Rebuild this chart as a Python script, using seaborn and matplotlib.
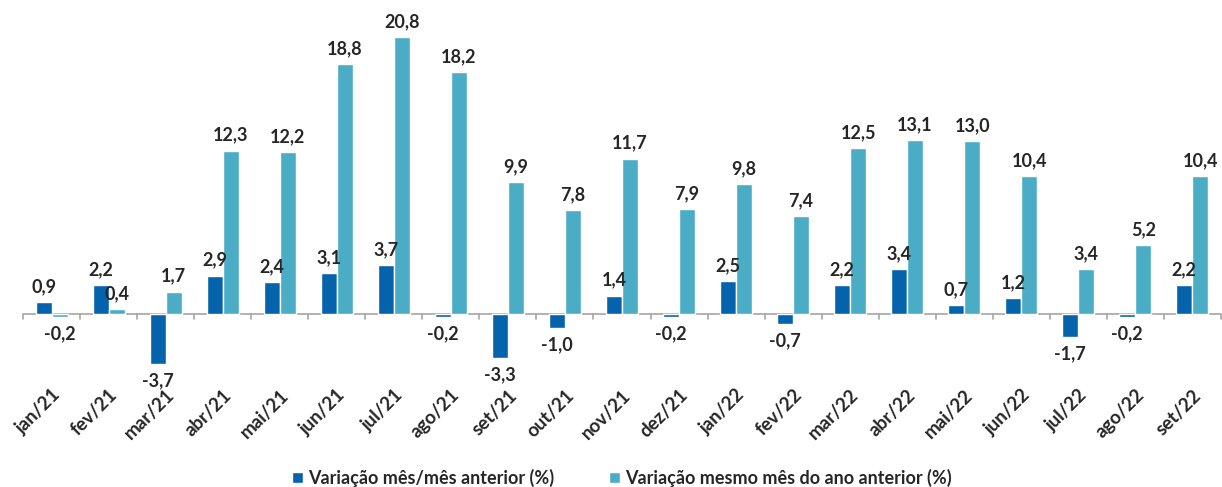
import numpy as np
import pandas as pd
import matplotlib
matplotlib.use('Agg')
import matplotlib.pyplot as plt
import seaborn as sns
from matplotlib.font_manager import FontProperties

meses = ['jan/21', 'fev/21', 'mar/21', 'abr/21', 'mai/21', 'jun/21', 'jul/21', 'ago/21', 'set/21', 'out/21',
         'nov/21', 'dez/21', 'jan/22', 'fev/22', 'mar/22', 'abr/22', 'mai/22', 'jun/22', 'jul/22', 'ago/22', 'set/22']
var_mensal = [0.9, 2.2, -3.7, 2.9, 2.4, 3.1, 3.7, -0.2, -3.3, -1.0, 1.4, -0.2, 2.5, -0.7, 2.2, 3.4, 0.7, 1.2, -1.7, -0.2, 2.2]
var_anual = [-0.2, 0.4, 1.7, 12.3, 12.2, 18.8, 20.8, 18.2, 9.9, 7.8, 11.7, 7.9, 9.8, 7.4, 12.5, 13.1, 13.0, 10.4, 3.4, 5.2, 10.4]

serie1 = 'Variação mês/mês anterior (%)'
serie2 = 'Variação mesmo mês do ano anterior (%)'

df = pd.DataFrame({
    'mes': meses * 2,
    'valor': var_mensal + var_anual,
    'serie': [serie1] * len(meses) + [serie2] * len(meses),
})

sns.set_style('white')
plt.rcParams['font.family'] = ['Lato', 'DejaVu Sans']

fig = plt.figure(figsize=(12.22, 4.87), dpi=100)
ax = fig.add_axes([0.019, 0.218, 0.980, 0.738])

sns.barplot(data=df, x='mes', y='valor', hue='serie', order=meses, hue_order=[serie1, serie2],
            palette=['#0563AC', '#4BACC6'], width=0.56, saturation=1, ax=ax, legend=True)

for cont in ax.containers:
    for bar in cont:
        h = bar.get_height()
        x = bar.get_x() + bar.get_width() / 2
        txt = f'{h:.1f}'.replace('.', ',')
        if h >= 0:
            ax.annotate(txt, (x, h), xytext=(0, 5), textcoords='offset points',
                        ha='center', va='bottom', fontsize=13, fontweight='bold')
        else:
            ax.annotate(txt, (x, h), xytext=(0, -6), textcoords='offset points',
                        ha='center', va='top', fontsize=13, fontweight='bold')

ax.set_ylim(-5, 22)
ax.set_xlim(-0.5, len(meses) - 0.5)
ax.set_yticks([])
ax.set_xlabel('')
ax.set_ylabel('')
for s in ['top', 'right', 'left', 'bottom']:
    ax.spines[s].set_visible(False)
ax.axhline(0, color='#A6A6A6', lw=1.2, zorder=0)

# marcas entre as categorias
for xm in np.arange(-0.5, len(meses), 1):
    ax.plot([xm, xm], [0, -0.35], color='#A6A6A6', lw=1.2, zorder=0, clip_on=False)
ax.tick_params(axis='x', which='major', length=0, pad=4)
plt.setp(ax.get_xticklabels(), rotation=45, ha='right', rotation_mode='anchor', fontsize=13.5, fontweight='bold')

fp = FontProperties(family='Lato', weight='bold', size=13)
ax.legend(loc='upper center', bbox_to_anchor=(0.5, -0.2), ncol=2, frameon=False,
          prop=fp, handlelength=0.6, handleheight=0.6,
          handletextpad=0.3, columnspacing=3)

fig.savefig('out.png', dpi=100)
